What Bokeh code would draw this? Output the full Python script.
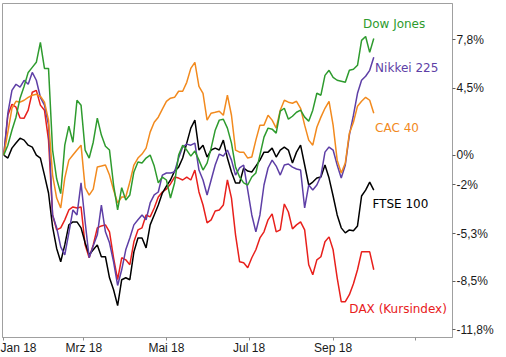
import numpy as np
import pandas as pd
from bokeh.plotting import figure
from bokeh.models import FixedTicker, Label, Range1d
from bokeh.embed import file_html
from bokeh.resources import INLINE

# ---- data (percent change since start of 2018), sampled every 3 days ----
dates = pd.date_range("2018-01-01", periods=92, freq="3D")

dow = [0, 0.67, 1.68, 2.56, 3.84, 4.64, 5.58, 5.92, 6.26, 7.6,
       5.85, 5.85, 0.34, -1.6, -2.6, 0.67, 1.95, 0.87, 3.7, 3.37,
       0.34, -0.2, 0.87, 2.49, 1.35, 0.6, 0.34, -2.02, -3.7, -2.2,
       -3.03, -2.69, -1.14, -0.47, -0.54, -0.2, 0, -0.74, -1.88, -1.48,
       -1.68, -2.9, -1.88, 0, 0.67, 0.34, -0.07, 0.27, -0.34, -1.01,
       -0.54, 0.47, 1.68, 2.36, 2.42, 1.82, 0.81, -0.81, -1.48, -1.88,
       -2.02, -1.48, -1.21, 0, 1.21, 1.82, 1.75, 1.48, 2.96, 3.16,
       2.42, 2.62, 2.89, 3.03, 2.56, 2.29, 3.03, 4.17, 4.04, 5.38,
       5.72, 5.25, 5.05, 4.98, 4.91, 5.72, 5.79, 6.06, 7.74, 8.0,
       6.93, 7.87]

nikkei = [0, 2.83, 4.37, 4.78, 4.58, 5.05, 4.78, 5.58, 5.05, 3.9,
          3.37, 2.02, -4.04, -4.9, -6.2, -6.73, -5.25, -3.7, -4.04, -1.88,
          -4.5, -6.93, -6.12, -5.38, -3.37, -5.18, -5.92, -7.2, -8.8, -7.74,
          -6.39, -5.59, -4.71, -4.37, -4.04, -4.37, -3.23, -2.69, -2.49, -1.35,
          -1.21, -1.21, -1.14, -0.2, 0.54, 0.74, 0.67, 0.81, -1.01, -1.68,
          -2.69, -1.68, -0.67, 0.07, -0.07, 0.34, -0.34, -1.35, -0.87, -0.67,
          -2.36, -4.04, -5.18, -4.04, -2.02, -0.87, -0.34, -0.74, -1.35, -0.67,
          -0.6, -0.81, -0.94, -1.01, -3.57, -2.02, -2.36, -2.02, -1.41, 0.2,
          0.54, 0.34, -0.67, -1.55, -0.67, 1.35, 2.69, 4.17, 5.05, 5.32,
          5.72, 6.6]

cac40 = [0, 1.55, 3.16, 3.63, 3.57, 3.7, 3.9, 4.04, 4.1, 3.97,
         3.57, 2.36, -1.35, -2.9, -3.57, -1.55, -0.34, 0, 0.34, 0.67,
         -2.2, -2.7, -2.3, -0.8, -0.74, -0.67, -1.35, -2.36, -3.23, -2.83,
         -2.83, -1.82, -0.67, -0.2, 0.07, 0.47, 1.55, 2.22, 2.56, 3.1,
         3.63, 3.84, 3.9, 4.31, 4.31, 4.91, 5.85, 6.26, 4.64, 4.17,
         2.36, 2.83, 2.89, 2.96, 2.69, 4.04, 2.69, 0.34, 0.2, 0.2,
         -0.2, -0.13, 1.01, 2.02, 2.02, 2.69, 2.36, 1.82, 3.03, 3.7,
         3.57, 3.5, 3.63, 3.16, 2.02, 1.01, 0.67, 1.88, 2.56, 3.16,
         3.63, 2.02, -0.34, -1.21, -0.54, 1.48, 2.22, 3.3, 3.63, 3.9,
         3.7, 2.83]

ftse100 = [0, -0.2, 0.47, 0.81, 1.14, 1.01, 0.67, 0.54, 0, -0.2,
           -1.35, -2.56, -4.85, -6.3, -7.2, -6.06, -4.71, -4.51, -4.51, -4.91,
           -5.92, -6.73, -6.39, -6.06, -6.86, -6.86, -8.28, -9.09, -10.16, -8.41,
           -8.28, -8.41, -6.53, -5.59, -5.59, -6.26, -4.71, -4.04, -3.37, -2.56,
           -2.09, -1.68, -1.08, -0.81, -0.2, 0.81, 1.82, 2.36, 0.34, 0.67,
           -0.13, 0.34, 0.47, 0.34, 1.01, -0.2, -1.14, -1.88, -1.88, -0.87,
           -1.08, -1.14, -0.74, -0.34, 0.2, 0.2, 0.47, -0.13, 0.34, 0.54,
           0.34, -0.54, 0.2, 0.67, -0.67, -2.02, -1.82, -1.55, -1.48, -0.67,
           -1.55, -2.76, -4.04, -4.91, -5.25, -5.05, -5.11, -4.78, -2.76, -2.36,
           -1.82, -2.36]

dax = [0, 2.69, 3.43, 3.23, 2.5, 2.49, 3.03, 4.24, 4.37, 3.37,
       3.03, 1.01, -4.04, -5.05, -4.91, -4.37, -3.7, -3.5, -3.57, -3.5,
       -6.06, -6.93, -6.06, -4.91, -4.78, -4.71, -5.18, -6.93, -8.41, -6.93,
       -7.07, -7.4, -5.85, -5.05, -4.91, -4.04, -4.17, -3.57, -2.83, -2.49,
       -2.29, -1.95, -1.48, -1.55, -1.68, -1.48, -1.68, -1.01, -2.49, -3.37,
       -4.58, -4.37, -3.77, -3.7, -3.37, -1.68, -2.9, -5.38, -7.2, -7.27,
       -7.6, -6.93, -6.39, -5.59, -5.18, -4.37, -3.97, -5.18, -5.05, -3.3,
       -3.84, -4.98, -4.71, -4.51, -5.05, -7.4, -8.08, -7.07, -6.86, -5.85,
       -5.52, -6.39, -8.28, -9.89, -9.89, -9.42, -8.68, -7.74, -6.53, -6.53,
       -6.53, -7.74]

series_names = ["DAX (Kursindex)", "FTSE 100", "Nikkei 225", "CAC 40", "Dow Jones"]
series_values = [dax, ftse100, nikkei, cac40, dow]
series_colors = ["#e8201c", "#000000", "#5e3fa6", "#f28a1e", "#2e9b2e"]

tick_dates = ["2018-01-01", "2018-03-01", "2018-05-01", "2018-07-01", "2018-09-01", "2018-11-01"]
tick_labels = ["Jan 18", "Mrz 18", "Mai 18", "Jul 18", "Sep 18", ""]
y_ticks = [7.8, 4.5, 0, -2, -5.3, -8.5, -11.8]
y_labels = ["7,8%", "4,5%", "0%", "-2%", "-5,3%", "-8,5%", "-11,8%"]

# label anchor points (date, percent) for the series names
label_dates = ["2018-09-23", "2018-10-02", "2018-10-02", "2018-09-30", "2018-09-13"]
label_pcts = [8.82, 5.85, 1.82, -3.3, -10.36]
label_names = ["Dow Jones", "Nikkei 225", "CAC 40", "FTSE 100", "DAX (Kursindex)"]
label_colors = ["#2e9b2e", "#5e3fa6", "#f28a1e", "#000000", "#e8201c"]

# ---- build ----
origin = pd.Timestamp("2018-01-01")
days = (dates - origin).days.to_numpy()
tick_days = [int((pd.Timestamp(d) - origin).days) for d in tick_dates]

p = figure(width=506, height=357, output_backend="svg", toolbar_location=None,
           x_range=Range1d(-0.96, 331.1), y_range=Range1d(-12.31, 10.23),
           y_axis_location="right",
           min_border_left=2, min_border_top=3, min_border_right=54, min_border_bottom=19)

p.background_fill_color = "white"
p.border_fill_color = "white"
p.outline_line_color = "#a0a0a0"
p.outline_line_width = 1
p.xgrid.visible = False
p.ygrid.visible = False
p.styles = {"outline": "1px solid #a8a8a8", "outline-offset": "-2px"}

for name, vals, col in zip(series_names, series_values, series_colors):
    p.line(days, vals, line_color=col, line_width=1.5)

for ax in (p.xaxis[0], p.yaxis[0]):
    ax.axis_label = None
    ax.major_label_text_font = "Liberation Sans"
    ax.major_label_text_font_size = "12px"
    ax.major_label_text_color = "#1a1a1a"
    ax.axis_line_color = "#a0a0a0"
    ax.major_tick_in = 0
    ax.minor_tick_line_color = None

xa = p.xaxis[0]
xa.ticker = FixedTicker(ticks=tick_days)
xa.major_label_overrides = {d: l for d, l in zip(tick_days, tick_labels)}
xa.major_label_text_align = "left"
xa.major_label_standoff = 0
xa.major_tick_line_color = "#909090"
xa.major_tick_out = 3

ya = p.yaxis[0]
ya.ticker = FixedTicker(ticks=y_ticks)
ya.major_label_overrides = {t: l for t, l in zip(y_ticks, y_labels)}
ya.major_label_standoff = 1
ya.major_tick_line_color = "#606060"
ya.major_tick_out = 3

for d, v, t, c in zip(label_dates, label_pcts, label_names, label_colors):
    p.add_layout(Label(x=(pd.Timestamp(d) - origin).days, y=v, text=t, text_color=c,
                       text_font="DejaVu Sans", text_font_size="12px",
                       text_baseline="middle", text_align="left"))

open("out.html", "w").write(file_html(p, INLINE))
